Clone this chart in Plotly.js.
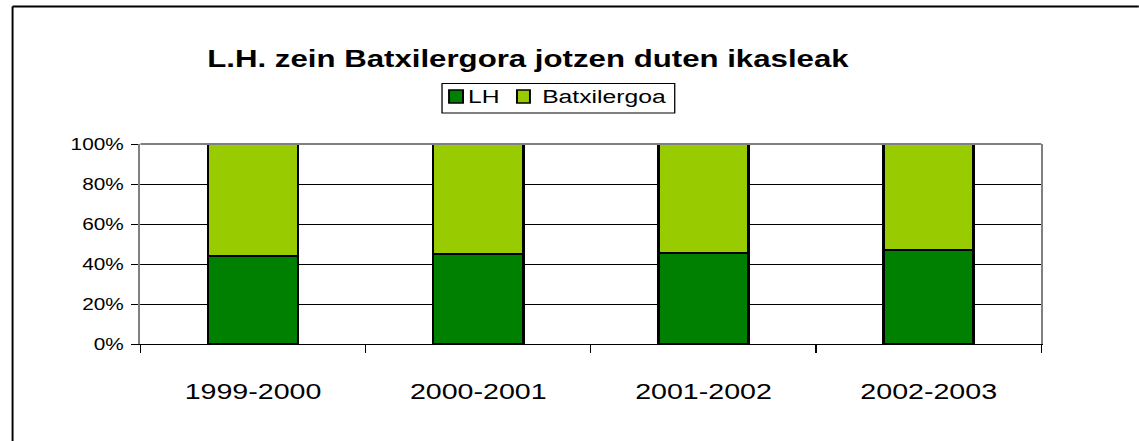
<!DOCTYPE html>
<html>
<head>
<meta charset="utf-8">
<script src="https://cdn.plot.ly/plotly-3.0.1.min.js"></script>
<style>
html,body{margin:0;padding:0;background:#fff;overflow:hidden;width:1139px;height:441px;}
#chart{width:876px;height:441px;transform:scaleX(1.3);transform-origin:0 0;}
</style>
</head>
<body>
<div id="chart"></div>
<script>
const categories = ["1999-2000", "2000-2001", "2001-2002", "2002-2003"];
const seriesNames = ["LH", "Batxilergoa"];
const lhValues = [44.2, 44.8, 45.5, 47.0];
const batxValues = [55.8, 55.2, 54.5, 53.0];
const yTickVals = [0, 20, 40, 60, 80, 100];
const yTickText = ["0%", "20%", "40%", "60%", "80%", "100%"];

const font = "Liberation Sans, Arial, sans-serif";
const colors = ["#008000", "#99CC00"];
const data = [
  {type: "bar", name: seriesNames[0], x: categories, y: lhValues,
   marker: {color: colors[0], line: {color: "#000000", width: 2}}, hoverinfo: "none"},
  {type: "bar", name: seriesNames[1], x: categories, y: batxValues,
   marker: {color: colors[1], line: {color: "#000000", width: 2}}, hoverinfo: "none"}
];

// legend drawn as box + swatches + labels (paper coordinates)
const legSwatchX = [[0.3426, 0.3581], [0.418, 0.4324]];
const legTextX = [0.3625, 0.4446];
const shapes = [
  {type: "line", xref: "paper", yref: "paper", x0: 0, x1: 1, y0: 1, y1: 1,
   line: {color: "#808080", width: 2}},
  {type: "line", xref: "paper", yref: "paper", x0: -0.1419, x1: 1.11, y0: 1.6875, y1: 1.6875,
   line: {color: "#000", width: 2}},
  {type: "line", xref: "paper", yref: "paper", x0: -0.1419, x1: -0.1419, y0: 1.6875, y1: -0.5,
   line: {color: "#000", width: 1.5}},
  {type: "rect", xref: "paper", yref: "paper", x0: 0.3348, x1: 0.5931, y0: 1.155, y1: 1.3025,
   line: {color: "#000", width: 1}, fillcolor: "rgba(0,0,0,0)"}
];
const annotations = [];
seriesNames.forEach((n, i) => {
  shapes.push({type: "rect", xref: "paper", yref: "paper",
    x0: legSwatchX[i][0], x1: legSwatchX[i][1], y0: 1.205, y1: 1.27,
    line: {color: "#000", width: 1.5}, fillcolor: colors[i]});
  annotations.push({xref: "paper", yref: "paper", x: legTextX[i], y: 1.235,
    xanchor: "left", yanchor: "middle", showarrow: false, text: n,
    font: {family: font, size: 19, color: "#000"}, borderpad: 0});
});

const layout = {
  width: 876, height: 441,
  margin: {l: 107.7, r: 74.6, t: 144, b: 97, pad: 0},
  paper_bgcolor: "#ffffff", plot_bgcolor: "#ffffff",
  barmode: "stack", bargap: 0.6,
  font: {family: font, color: "#000000"},
  showlegend: false,
  title: {text: "<b>L.H. zein Batxilergora jotzen duten ikasleak</b>",
          font: {family: font, size: 24, color: "#000"},
          x: 0.4636, xref: "container", xanchor: "center",
          y: 0.868, yref: "container", yanchor: "middle"},
  xaxis: {type: "category", tickson: "boundaries", ticks: "outside", ticklen: 8,
          tickcolor: "#000", tickwidth: 1, showgrid: false,
          showline: true, linecolor: "#000", linewidth: 1,
          ticklabelstandoff: 28,
          tickfont: {family: font, size: 22}, fixedrange: true},
  yaxis: {range: [0, 100], tickvals: yTickVals, ticktext: yTickText,
          ticks: "outside", ticklen: 6, tickcolor: "#000",
          showgrid: true, gridcolor: "#000", gridwidth: 1,
          showline: true, mirror: true, linecolor: "#808080", linewidth: 1.6,
          ticklabelstandoff: 2,
          zeroline: false, tickfont: {family: font, size: 16}, fixedrange: true},
  shapes: shapes,
  annotations: annotations
};
Plotly.newPlot("chart", data, layout, {displayModeBar: false, staticPlot: true});
</script>
</body>
</html>
